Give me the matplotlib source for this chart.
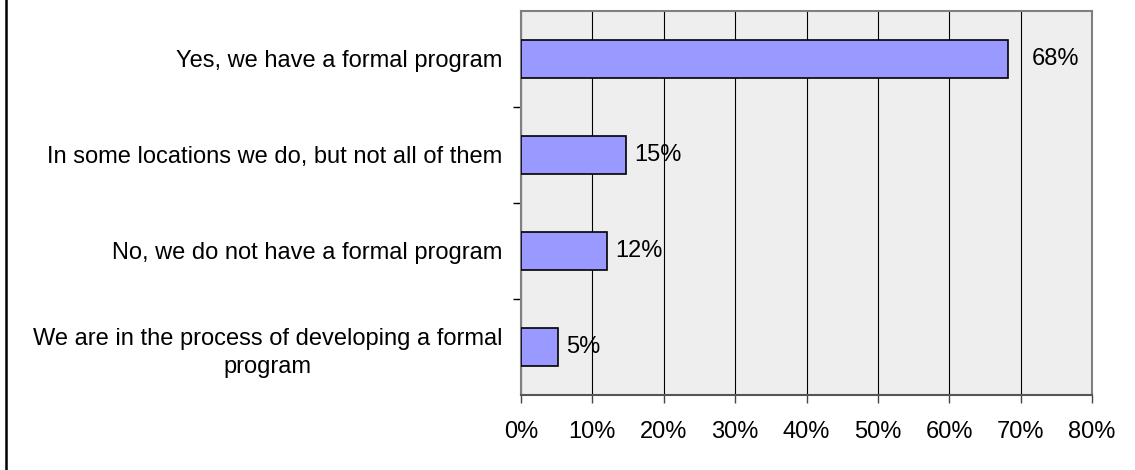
import matplotlib.pyplot as plt
from matplotlib.lines import Line2D
from matplotlib.ticker import FixedLocator

plt.rcParams['font.family'] = ['Liberation Sans', 'DejaVu Sans']

# datos (de arriba hacia abajo)
categorias = ["Yes, we have a formal program",
              "In some locations we do, but not all of them",
              "No, we do not have a formal program",
              "We are in the process of developing a formal\nprogram"]
valores = [68.2, 14.7, 12.1, 5.2]
etiquetas = ["68%", "15%", "12%", "5%"]
ticks_x = [0, 10, 20, 30, 40, 50, 60, 70, 80]
separacion = [17, 6, 6, 6]  # distancia etiqueta-barra en puntos

fig = plt.figure(figsize=(11.35, 4.70), dpi=100)
ax = fig.add_axes([521/1135, 1 - 395/470, 571/1135, 384/470])
ax.set_facecolor('#EEEEEE')

pos = list(range(len(categorias)))
ax.barh(pos, valores, height=0.39, color='#9999FF', edgecolor='black', linewidth=1.2, zorder=3)

for p, v, t, d in zip(pos, valores, etiquetas, separacion):
    ax.annotate(t, (v, p), xytext=(d, 0), textcoords='offset points',
                va='center', ha='left', fontsize=17, zorder=4)

ax.set_xlim(0, 80)
ax.set_ylim(len(categorias) - 0.5, -0.5)
ax.set_xticks(ticks_x)
ax.set_xticklabels([str(t) + "%" for t in ticks_x], fontsize=17)
ax.xaxis.grid(True, color='black', linewidth=0.8, zorder=1)

ax.set_yticks(pos)
ax.set_yticklabels(categorias, fontsize=17, ha='right', ma='center')
for lbl in ax.get_yticklabels():
    lbl.set_linespacing(1.4)
ax.yaxis.set_minor_locator(FixedLocator([0.5, 1.5, 2.5]))
ax.tick_params(axis='y', which='major', length=0, pad=13.5)
ax.tick_params(axis='y', which='minor', length=6, width=1, color='black', direction='out')
ax.tick_params(axis='x', length=6, width=1, color='#444444', direction='out', pad=13)

for s in ['top', 'right', 'left']:
    ax.spines[s].set_color('#808080')
    ax.spines[s].set_linewidth(1.5)
ax.spines['bottom'].set_color('#555555')
ax.spines['bottom'].set_linewidth(1.5)

# borde izquierdo del recorte
fig.add_artist(Line2D([5.5/1135, 5.5/1135], [0, 1], color='black', linewidth=1.8, transform=fig.transFigure))

fig.savefig('out.png', dpi=100)
